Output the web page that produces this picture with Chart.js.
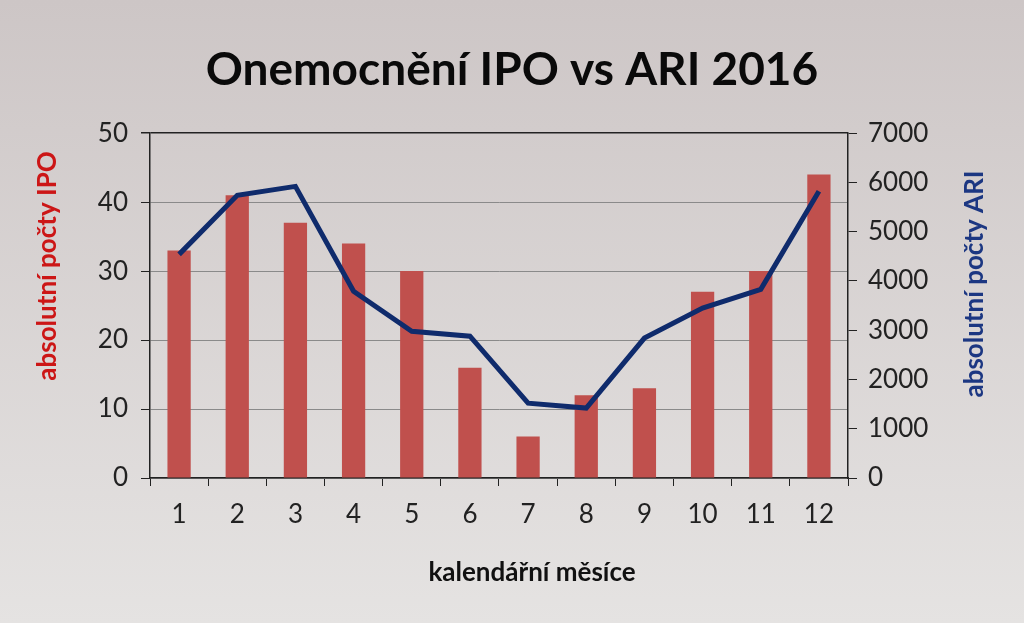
<!DOCTYPE html>
<html>
<head>
<meta charset="utf-8">
<script src="https://cdn.jsdelivr.net/npm/chart.js@4"></script>
<style>
  html, body { margin: 0; padding: 0; }
  body { width: 1024px; height: 623px; overflow: hidden; background: linear-gradient(#cdc6c6, #e5e3e2); }
  canvas { display: block; }
</style>
</head>
<body>
<canvas id="myChart" width="1024" height="623"></canvas>
<script>
const months = ['1', '2', '3', '4', '5', '6', '7', '8', '9', '10', '11', '12'];
const ipoCases = [33, 41, 37, 34, 30, 16, 6, 12, 13, 27, 30, 44];
const ariCases = [4540, 5740, 5920, 3790, 2980, 2880, 1520, 1420, 2840, 3450, 3830, 5820];
const ipoTicks = [0, 10, 20, 30, 40, 50];
const ariTicks = [0, 1000, 2000, 3000, 4000, 5000, 6000, 7000];

const FONT = 'Lato, "Open Sans", sans-serif';

// axis titles sit off-centre in the original, so draw them by hand
const axisTitles = {
    id: 'axisTitles',
    afterDraw(chart) {
        const c = chart.ctx;
        c.save();
        c.font = 'bold 26px ' + FONT;
        c.textAlign = 'center';
        c.textBaseline = 'middle';

        c.fillStyle = '#111';
        c.fillText('kalendářní měsíce', 532, 573);

        c.save();
        c.translate(48, 266);
        c.rotate(-Math.PI / 2);
        c.fillStyle = '#cc1616';
        c.fillText('absolutní počty IPO', 0, 0);
        c.restore();

        c.save();
        c.translate(975, 284);
        c.rotate(-Math.PI / 2);
        c.fillStyle = '#1c3782';
        c.fillText('absolutní počty ARI', 0, 0);
        c.restore();

        c.restore();
    }
};

const ctx = document.getElementById('myChart').getContext('2d');
const myChart = new Chart(ctx, {
    type: 'bar',
    data: {
        labels: months,
        datasets: [{
            type: 'line',
            label: 'ARI',
            data: ariCases,
            yAxisID: 'y1',
            borderColor: '#0f2b6c',
            borderWidth: 5,
            pointRadius: 0,
            tension: 0,
            order: 0
        }, {
            type: 'bar',
            label: 'IPO',
            data: ipoCases,
            yAxisID: 'y',
            backgroundColor: '#c0504d',
            barPercentage: 0.4,
            categoryPercentage: 1,
            order: 1
        }]
    },
    options: {
        responsive: false,
        animation: false,
        layout: { padding: 0 },
        plugins: {
            legend: { display: false },
            tooltip: { enabled: false },
            title: {
                display: true,
                text: 'Onemocnění IPO vs ARI 2016',
                color: '#0a0a0a',
                font: { family: FONT, size: 46, weight: 'bold' },
                padding: { top: 43, bottom: 35 }
            }
        },
        scales: {
            x: {
                offset: true,
                grid: { offset: true, drawOnChartArea: false, tickLength: 8, tickColor: '#222' },
                border: { color: '#222', width: 1.5 },
                ticks: { color: '#222', padding: 13, maxRotation: 0, font: { family: FONT, size: 26 } },
                afterFit(scale) { scale.height = 145; }
            },
            y: {
                position: 'left',
                min: 0,
                max: 50,
                afterBuildTicks(scale) { scale.ticks = ipoTicks.map(v => ({ value: v })); },
                grid: {
                    color: c => c.tick && c.tick.value === 50 ? '#222' : '#8a8a8a',
                    lineWidth: c => c.tick && c.tick.value === 50 ? 1.5 : 1,
                    tickLength: 9,
                    tickColor: '#222'
                },
                border: { color: '#222', width: 1.5 },
                ticks: { color: '#222', padding: 13, font: { family: FONT, size: 26 }, callback: v => String(v) },
                afterFit(scale) { scale.width = 150; }
            },
            y1: {
                position: 'right',
                min: 0,
                max: 7000,
                afterBuildTicks(scale) { scale.ticks = ariTicks.map(v => ({ value: v })); },
                grid: { drawOnChartArea: false, tickLength: 9, tickColor: '#222' },
                border: { color: '#222', width: 1.5 },
                ticks: { color: '#222', padding: 11, font: { family: FONT, size: 26 }, callback: v => String(v) },
                afterFit(scale) { scale.width = 176; }
            }
        }
    },
    plugins: [axisTitles]
});
</script>
</body>
</html>
